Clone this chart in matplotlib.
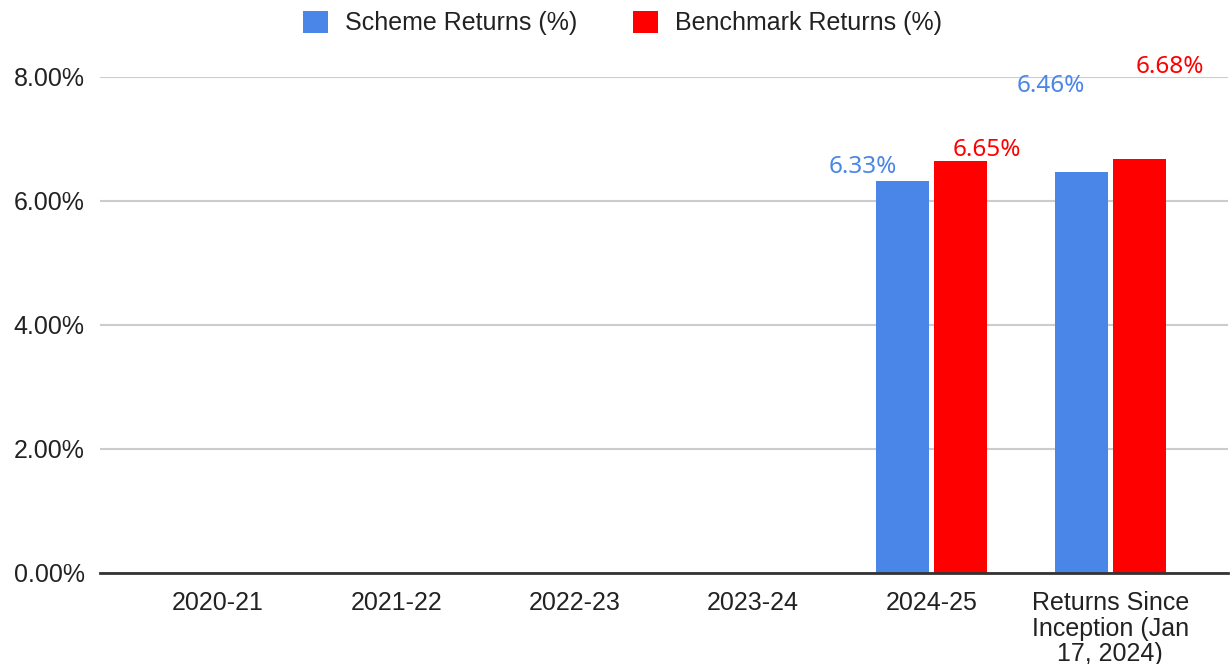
import numpy as np
import matplotlib.pyplot as plt

categories = ["2020-21", "2021-22", "2022-23", "2023-24", "2024-25",
              "Returns Since\nInception (Jan\n17, 2024)"]
scheme = [np.nan, np.nan, np.nan, np.nan, 6.33, 6.46]
benchmark = [np.nan, np.nan, np.nan, np.nan, 6.65, 6.68]
y_ticks = [0, 2, 4, 6, 8]

blue = "#4a86e8"
red = "#ff0000"

# label offsets in pixels (dx, dy) from bar top centre, as the sheet drew them
scheme_off = {4: (-40, 14), 5: (-30, 86)}
bench_off = {4: (26, 11), 5: (31, 92)}

plt.rcParams["font.family"] = ["Liberation Sans", "DejaVu Sans"]
fig = plt.figure(figsize=(12.3, 6.64), dpi=100)
ax = fig.add_axes([100 / 1230, 1 - 573 / 664, 1128 / 1230, (573 - 77) / 664])

x = np.arange(len(categories))
w = 0.297
shift = 0.162
b1 = ax.bar(x - shift, scheme, w, color=blue, label="Scheme Returns (%)", zorder=3)
b2 = ax.bar(x + shift, benchmark, w, color=red, label="Benchmark Returns (%)", zorder=3)

px = 72 / 100  # pixels -> points
for i, v in enumerate(scheme):
    if i in scheme_off:
        dx, dy = scheme_off[i]
        ax.annotate(f"{v:.2f}%", (x[i] - shift, v), xytext=(dx * px, dy * px),
                    textcoords="offset points", ha="center", va="center",
                    color=blue, fontsize=17.5, family="Noto Sans", annotation_clip=False)
for i, v in enumerate(benchmark):
    if i in bench_off:
        dx, dy = bench_off[i]
        ax.annotate(f"{v:.2f}%", (x[i] + shift, v), xytext=(dx * px, dy * px),
                    textcoords="offset points", ha="center", va="center",
                    color=red, fontsize=17.5, family="Noto Sans", annotation_clip=False)

ax.set_xlim(-0.66, len(categories) - 1 + 0.66)
ax.set_ylim(0, 8)
ax.set_yticks(y_ticks)
ax.set_yticklabels([f"{t:.2f}%" for t in y_ticks])
ax.set_xticks(x)
ax.set_xticklabels(categories, linespacing=1.08)
ax.tick_params(axis="both", length=0, labelsize=18, colors="#222222")
ax.tick_params(axis="y", pad=11)
ax.tick_params(axis="x", pad=13)
ax.yaxis.grid(True, color="#cccccc", linewidth=1.5, zorder=0)
for s in ["top", "right", "left"]:
    ax.spines[s].set_visible(False)
ax.spines["bottom"].set_color("#333333")
ax.spines["bottom"].set_linewidth(2)
ax.spines["bottom"].set_zorder(4)

fig.legend(handles=[b1, b2], loc="center", bbox_to_anchor=(0.506, 1 - 23 / 664),
           ncol=2, frameon=False, fontsize=18, handlelength=1.0, handleheight=1.0,
           handletextpad=0.7, columnspacing=2.2, labelcolor="#222222")

fig.savefig("out.png", dpi=100)
